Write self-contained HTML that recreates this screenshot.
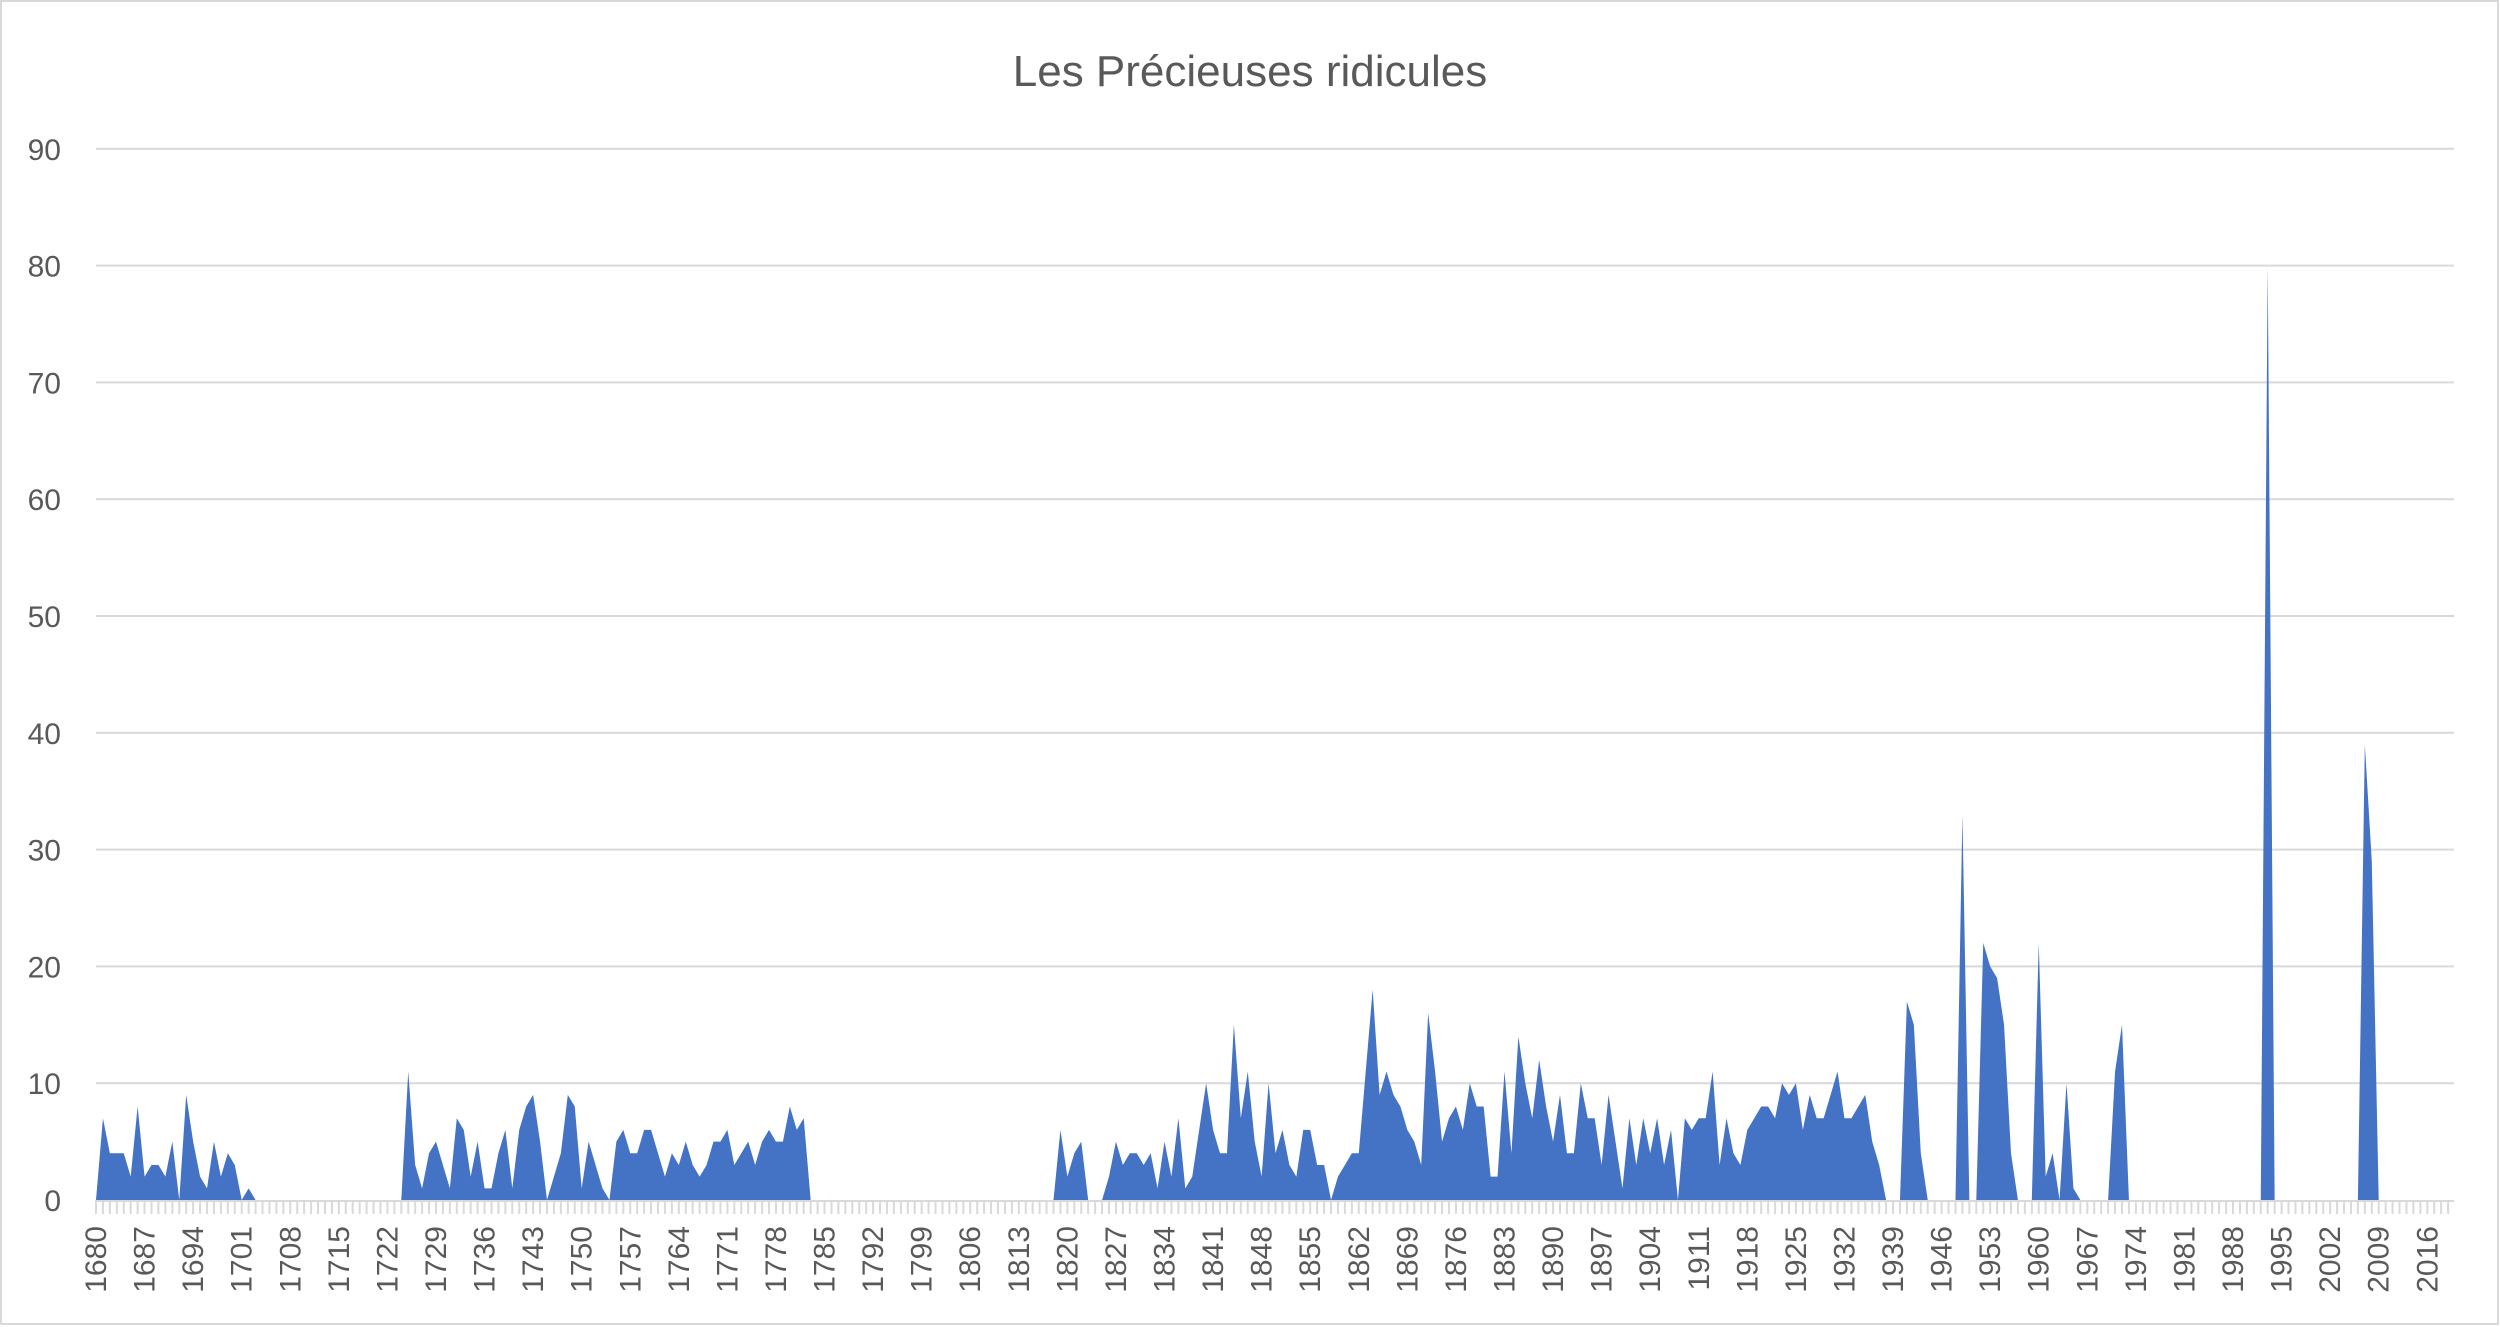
<!DOCTYPE html>
<html><head><meta charset="utf-8"><style>
html,body{margin:0;padding:0;background:#fff;}
svg{display:block;font-family:"Liberation Sans",sans-serif;}
</style></head>
<body>
<svg id="chart" width="2500" height="1327" viewBox="0 0 2500 1327" xmlns="http://www.w3.org/2000/svg">
<rect x="1" y="1" width="2497" height="1323" fill="#fff" stroke="#d9d9d9" stroke-width="2"/>
<text x="1250" y="86" text-anchor="middle" font-size="44" fill="#595959">Les Précieuses ridicules</text>
<g id="grid"></g>
<g id="ylabels"></g>
<g id="series"></g>
<g id="xaxis"></g>
</svg>
<script>
const startYear = 1680;
const endYear = 2019;
const yTicks = [0,10,20,30,40,50,60,70,80,90];
const values = [
0,7,4,4,4,2,8,2,3,3,2,5,0,9,5,2,1,5,2,4,3,0,1,0,
0,0,0,0,0,0,0,0,0,0,0,0,0,0,0,0,0,0,0,0,0,
11,3,1,4,5,3,1,7,6,2,5,1,1,4,6,1,6,8,9,5,0,2,4,9,8,1,5,3,1,0,5,6,4,4,6,6,4,2,4,3,5,3,2,3,5,5,6,3,4,5,3,5,6,5,5,8,6,7,0,
0,0,0,0,0,0,0,0,0,0,0,0,0,0,0,0,0,0,0,0,0,0,0,0,0,0,0,0,0,0,0,0,0,0,
0,6,2,4,5,0,0,0,2,5,3,4,4,3,4,1,5,2,7,1,2,6,10,6,4,4,15,7,11,5,2,10,4,6,3,2,6,6,3,3,0,2,3,4,4,
11,18,9,11,9,8,6,5,3,16,11,5,7,8,6,10,8,8,2,2,11,4,14,10,7,12,8,5,9,4,4,10,7,7,3,9,5,1,7,3,7,4,7,3,6,
0,7,6,7,7,11,3,7,4,3,6,7,8,8,7,10,9,10,6,9,7,7,9,11,7,7,8,9,5,3,0,0,0,
17,15,4,0,0,0,0,0,33,0,0,22,20,19,15,4,0,0,0,22,2,4,0,10,1,0,0,0,0,0,11,15,0,
0,0,0,0,0,0,0,0,0,0,0,0,0,0,0,0,0,0,0,
80,
0,0,0,0,0,0,0,0,0,0,0,0,0,
39,29,
0,0,0,0,0,0,0,0,0,0,0
];
const NS = "http://www.w3.org/2000/svg";
const X0 = 96, X1 = 2454, Y0 = 1200, YPER = 11.68;
const n = endYear - startYear + 1;
function xOf(i){ return X0 + i * (X1 - X0) / (n - 1 + 0.85); }
function yOf(v){ return Y0 - v * YPER; }
function mk(tag, attrs, parent){ const e = document.createElementNS(NS, tag); for (const k in attrs) e.setAttribute(k, attrs[k]); parent.appendChild(e); return e; }

const grid = document.getElementById('grid');
const ylab = document.getElementById('ylabels');
yTicks.forEach(t => {
  if (t > 0) {
    const l = mk('line', {x1: X0, x2: X1, y1: yOf(t), y2: yOf(t), stroke: '#d9d9d9', 'stroke-width': 2}, grid);
    
    
  }
  const tx = mk('text', {x: 61, y: yOf(t) + 11, 'text-anchor': 'end', 'font-size': 30, fill: '#595959'}, ylab);
  tx.textContent = t;
  
  
});

const series = document.getElementById('series');
let d = 'M' + xOf(0) + ',' + Y0;
values.forEach((v, i) => { d += ' L' + xOf(i).toFixed(2) + ',' + yOf(v).toFixed(2); });
d += ' L' + xOf(values.length - 1).toFixed(2) + ',' + Y0 + ' Z';
const area = mk('path', {d: d, fill: '#4472c4'}, series);



const xa = document.getElementById('xaxis');
const axl = mk('line', {x1: X0, x2: X1, y1: Y0 + 1, y2: Y0 + 1, stroke: '#d9d9d9', 'stroke-width': 2}, xa);


for (let i = 0; i < n; i++) {
  const x = xOf(i);
  const tk = mk('line', {x1: x, x2: x, y1: Y0, y2: Y0 + 14, stroke: '#d9d9d9', 'stroke-width': 2}, xa);
  
  
  if (i % 7 === 0) {
    const t = mk('text', {transform: 'translate(' + (x + 10).toFixed(2) + ',1226) rotate(-90)', 'text-anchor': 'end', 'font-size': 30, fill: '#595959'}, xa);
    t.textContent = startYear + i;
    
    
  }
}
</script>
</body></html>
